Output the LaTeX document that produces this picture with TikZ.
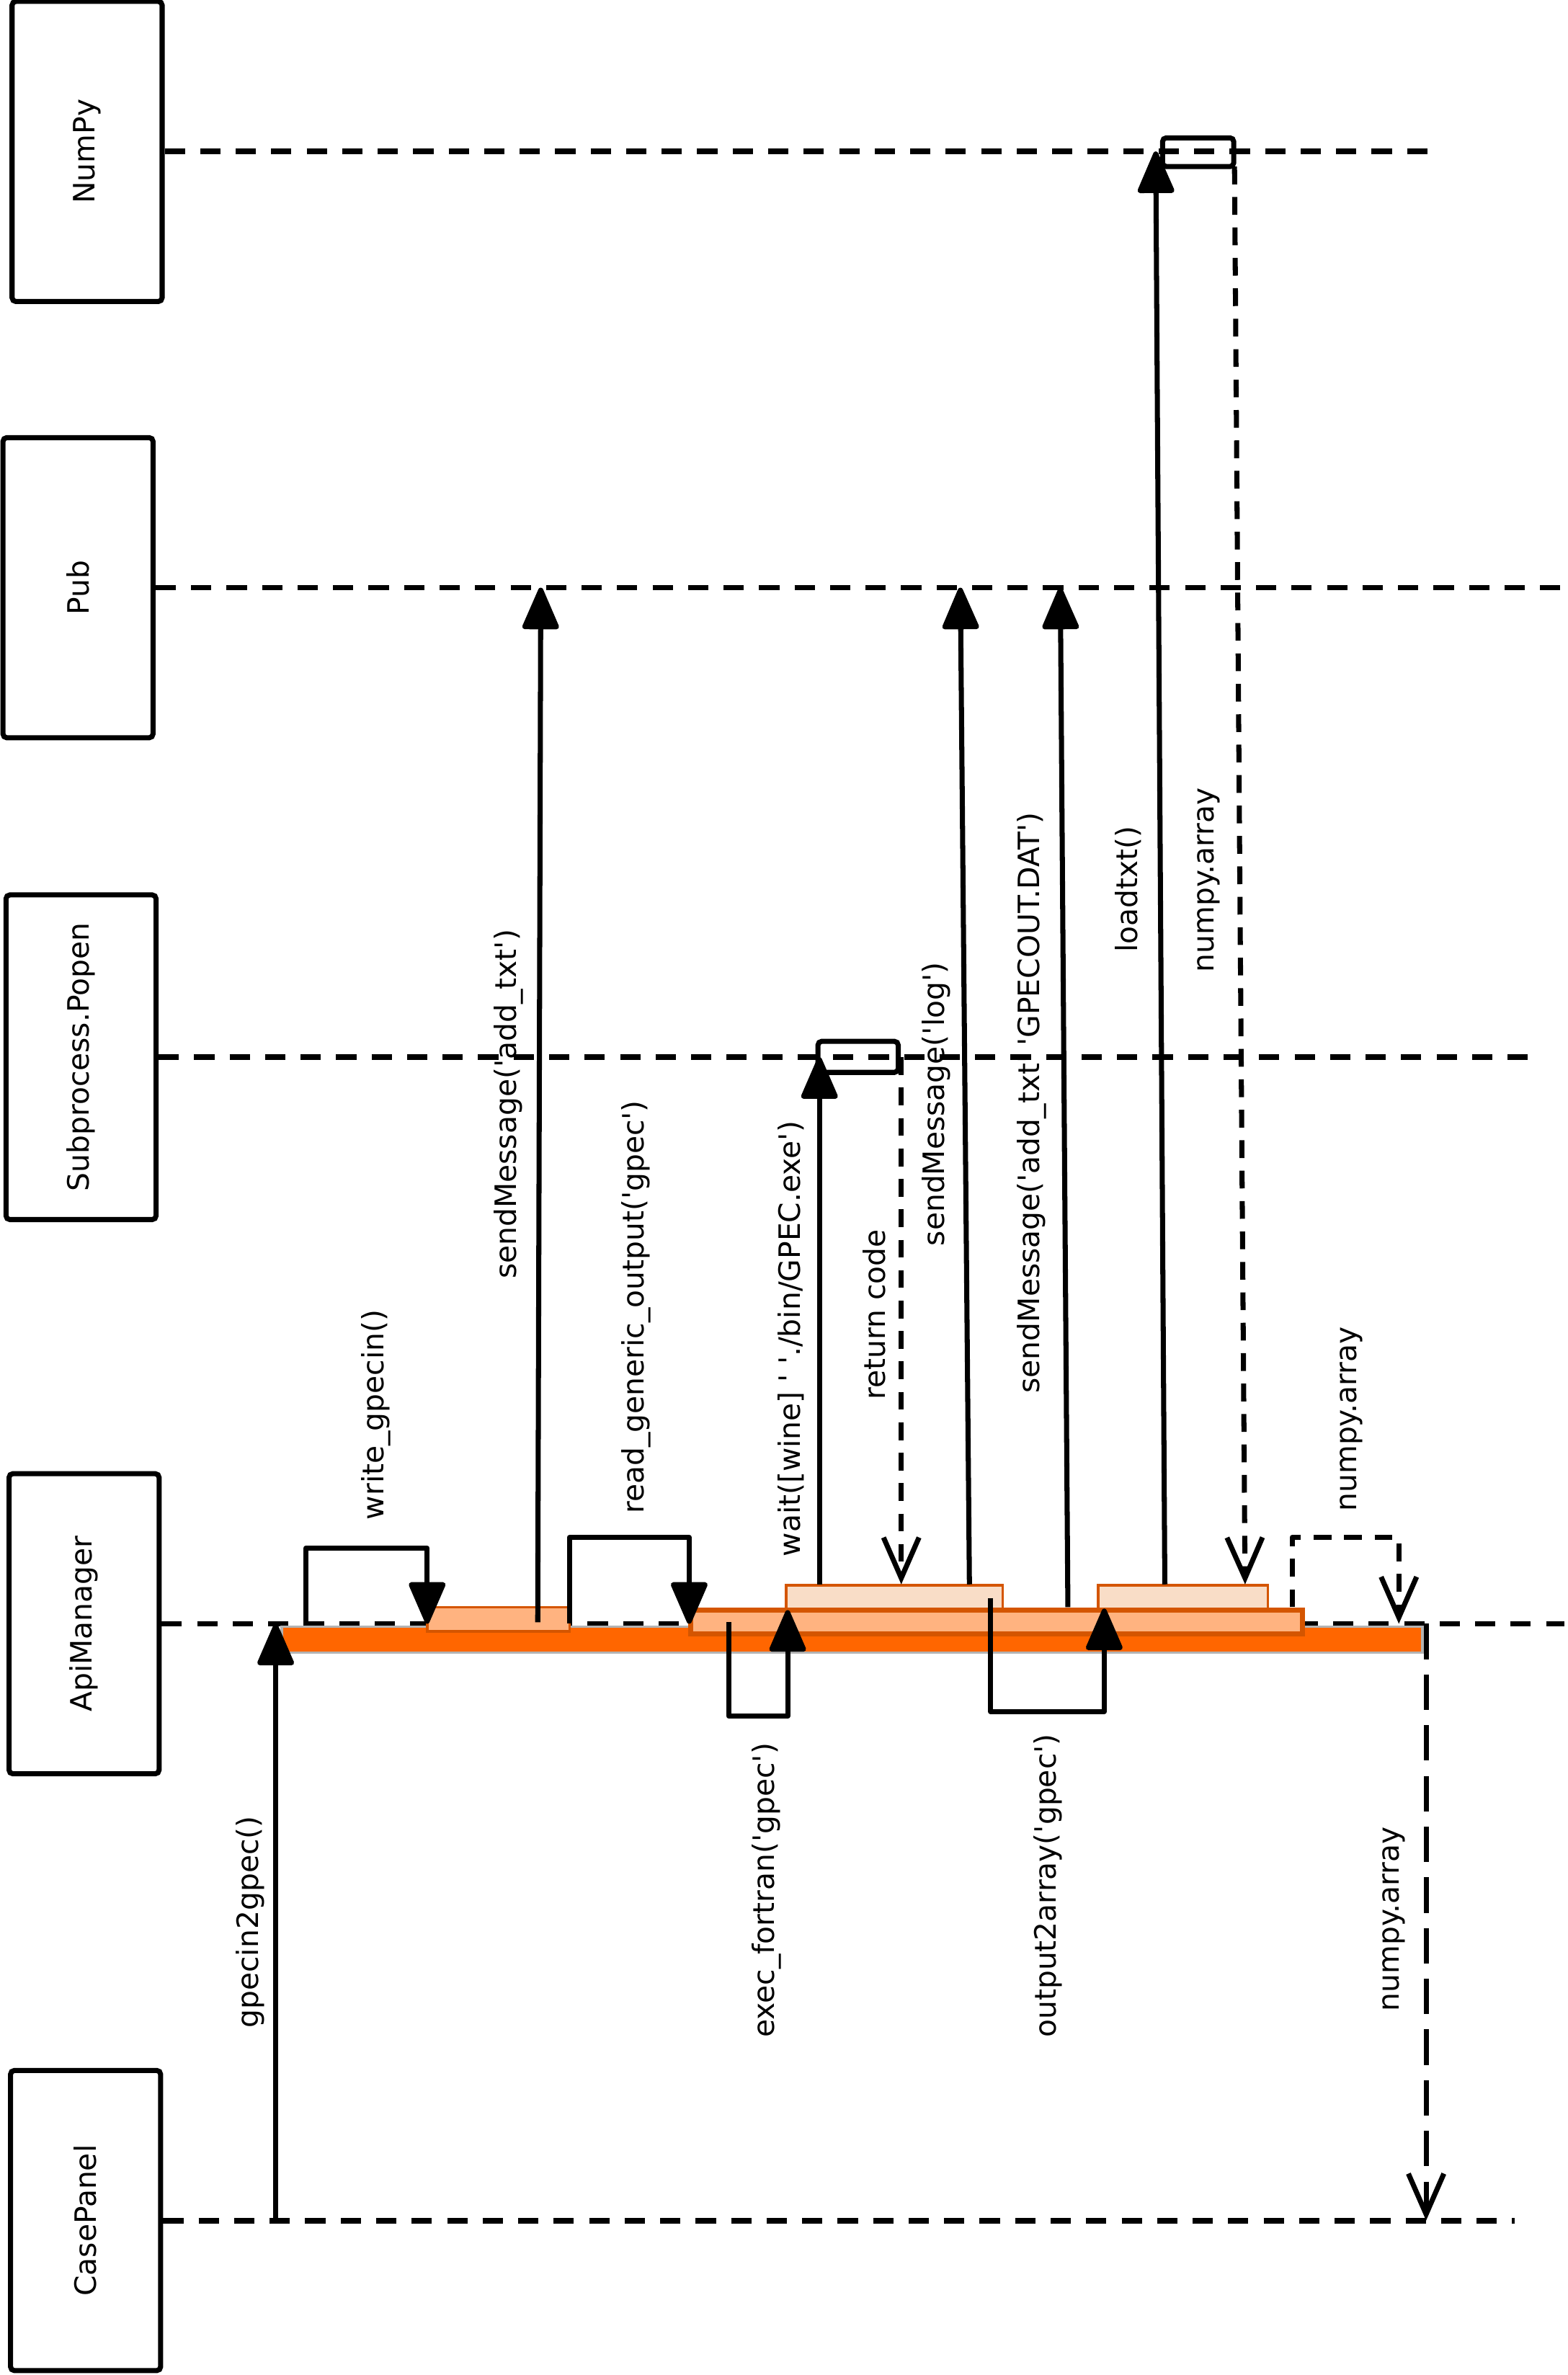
\documentclass[tikz,border=0pt]{standalone}
\usepackage{fontspec}
\newfontfamily\seqfont{DejaVu Sans}
\usepackage{tikz}
\usetikzlibrary{positioning}
\usetikzlibrary{calc}
\usetikzlibrary{arrows.meta}
\definecolor{runcol}{HTML}{FF6600}
\definecolor{shadecol}{HTML}{B3B3B3}
\definecolor{actcol}{HTML}{FFB380}
\definecolor{actline}{HTML}{D45500}
\definecolor{subcol}{HTML}{F9DDC7}
\tikzset{>=latex}
\tikzset{
  actor/.style={draw, line width=2pt, rounded corners=1.5pt, rotate=90,
    minimum width=4.16cm, minimum height=2.08cm, inner sep=0pt},
  lifeline/.style={line width=2.2pt, dash pattern=on 8pt off 6pt},
  call/.style={line width=2pt, line join=round,
    -{Triangle[length=18pt,width=15pt,round]}},
  reply/.style={line width=2pt, line join=round, dash pattern=on 7pt off 5pt,
    -{Straight Barb[length=16pt,width=14pt]}},
  tag/.style={rotate=90, inner sep=0pt},
}

\begin{document}
\begin{tikzpicture}[x=0.021cm, y=-0.021cm, font=\seqfont\fontsize{11.6}{13.9}\selectfont]
\useasboundingbox (0,0) rectangle (1035,1568);

% Actors
\node[actor] (numpy) at (57.5,100) {NumPy};
\node[actor] (pub) at (51.5,388) {Pub};
\node[actor, minimum width=4.5cm] (popen) at (53.5,698) {Subprocess.Popen};
\node[actor] (api) at (55.5,1072) {ApiManager};
\node[actor] (panel) at (56.5,1466) {CasePanel};

% Lifelines
\coordinate (numpyend) at (952,100);
\coordinate (pubend) at (1033,388);
\coordinate (popenend) at (1010,698);
\coordinate (apiend) at (1033,1072);
\coordinate (panelend) at (1000,1466);
\draw[lifeline] (numpy.south) -- (numpyend);
\draw[lifeline] (pub.south) -- (pubend);
\draw[lifeline] (popen.south) -- (popenend);
\draw[lifeline] (api.south) -- (apiend);
\draw[lifeline] (panel.south) -- (panelend);

% ApiManager run and activations
\draw[shadecol, line width=1pt, fill=runcol] (186,1074) rectangle (939,1091);
\draw[actline, line width=1pt, fill=actcol] (282,1061) rectangle (376,1077);
\draw[actline, line width=2pt, fill=actcol] (456,1063) rectangle (860,1078.5);
\draw[actline, line width=1pt, fill=subcol] (519,1046.5) rectangle (662,1062);
\draw[actline, line width=1pt, fill=subcol] (725,1046.5) rectangle (837,1062);

% Activations on Popen and NumPy
\draw[line width=2pt, rounded corners=1.5pt] (540,687.5) rectangle (593,708);
\draw[line width=2pt, rounded corners=1.5pt] (767.5,91) rectangle (814.5,110);

% gpecin2gpec()
\coordinate (g1) at (182,1466);
\coordinate (g2) at (182,1072);
\draw[call] (g1) -- (g2);
\node[tag] (lg) at (165,1269) {gpecin2gpec()};

% write_gpecin()
\coordinate (w1) at (202,1072);
\coordinate (w2) at (282,1022);
\coordinate (w3) at (282,1072);
\draw[call] (w1) |- (w2) -- (w3);
\node[tag] (lw) at (248,934) {write\_gpecin()};

% sendMessage('add_txt')
\coordinate (s1) at (355,1071);
\coordinate (s2) at (357,388);
\draw[call] (s1) -- (s2);
\node[tag] (ls) at (336,729) {sendMessage('add\_txt')};

% read_generic_output('gpec')
\coordinate (r1) at (376,1072);
\coordinate (r2) at (455,1015);
\coordinate (r3) at (455,1072);
\draw[call] (r1) |- (r2) -- (r3);
\node[tag] (lr) at (420,863) {read\_generic\_output('gpec')};

% exec_fortran('gpec')
\coordinate (e1) at (481,1071);
\coordinate (e2) at (520,1133);
\coordinate (e3) at (520,1063);
\draw[call] (e1) |- (e2) -- (e3);
\node[tag] (le) at (506,1248) {exec\_fortran('gpec')};

% wait on the GPEC process
\coordinate (p1) at (541,1046);
\coordinate (p2) at (541,698);
\draw[call] (p1) -- (p2);
\node[tag] (lp) at (522,884) {wait([wine] ' './bin/GPEC.exe')};

% return code
\coordinate (q1) at (595,698);
\coordinate (q2) at (595,1046);
\draw[reply] (q1) -- (q2);
\node[tag] (lq) at (577,868) {return code};

% sendMessage('log')
\coordinate (l1) at (640,1046);
\coordinate (l2) at (634,388);
\draw[call] (l1) -- (l2);
\node[tag] (ll) at (618,729) {sendMessage('log')};

% output2array('gpec')
\coordinate (o1) at (654,1055);
\coordinate (o2) at (729,1130);
\coordinate (o3) at (729,1062);
\draw[call] (o1) |- (o2) -- (o3);
\node[tag] (lo) at (692,1245) {output2array('gpec')};

% sendMessage('add_txt' 'GPECOUT.DAT')
\coordinate (d1) at (705,1061);
\coordinate (d2) at (700,388);
\draw[call] (d1) -- (d2);
\node[tag] (ld) at (681,728) {sendMessage('add\_txt' 'GPECOUT.DAT')};

% loadtxt()
\coordinate (t1) at (769,1046);
\coordinate (t2) at (763,100);
\draw[call] (t1) -- (t2);
\node[tag] (lt) at (745,587) {loadtxt()};

% numpy.array back from NumPy
\coordinate (n1) at (815,110);
\coordinate (n2) at (822,1046);
\draw[reply] (n1) -- (n2);
\node[tag] (ln) at (798,581) {numpy.array};

% numpy.array back to the run
\coordinate (a1) at (853,1061);
\coordinate (a2) at (923.5,1015);
\coordinate (a3) at (923.5,1072);
\draw[reply] (a1) |- (a2) -- (a3);
\node[tag] (la) at (892,937) {numpy.array};

% numpy.array to CasePanel
\coordinate (c1) at (941.5,1072);
\coordinate (c2) at (941.5,1466);
\draw[reply, dash pattern=on 14pt off 6pt] (c1) -- (c2);
\node[tag] (lc) at (920,1267) {numpy.array};

\end{tikzpicture}
\end{document}
